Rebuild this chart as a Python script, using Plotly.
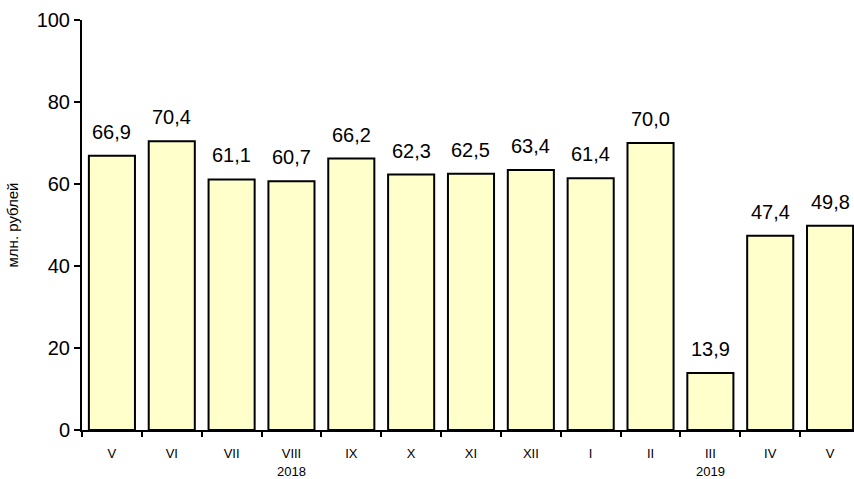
import plotly.graph_objects as go

months = ["V", "VI", "VII", "VIII", "IX", "X", "XI", "XII", "I", "II", "III", "IV", "V"]
values = [66.9, 70.4, 61.1, 60.7, 66.2, 62.3, 62.5, 63.4, 61.4, 70.0, 13.9, 47.4, 49.8]
years = ["2018", "2019"]
year_pos = [3, 10]
y_title = "млн. рублей"

FONT = "Liberation Sans, Arial, sans-serif"
idx = list(range(len(months)))
labels = [f"{v:.1f}".replace(".", ",") for v in values]

fig = go.Figure()
fig.add_trace(go.Bar(
    x=idx, y=values, width=0.77,
    marker=dict(color="#FFFFCC", line=dict(color="black", width=2)),
    hoverinfo="skip",
))

for i, v, t in zip(idx, values, labels):
    fig.add_annotation(x=i, y=v, text=t, showarrow=False, yanchor="bottom",
                       yshift=11, font=dict(size=20, color="black", family=FONT))

for yr, p in zip(years, year_pos):
    fig.add_annotation(x=p, y=0, yref="paper", text=yr, showarrow=False,
                       yanchor="middle", yshift=-41, borderpad=0,
                       font=dict(size=13, color="black", family=FONT))

xr = [-0.5, 12.4]
fig.update_layout(
    width=854, height=479,
    margin=dict(l=82, r=0, t=20, b=49),
    plot_bgcolor="white", paper_bgcolor="white",
    showlegend=False,
    font=dict(family=FONT, color="black"),
    xaxis=dict(range=xr, tickvals=idx, ticktext=months, ticks="",
               showline=True, linewidth=2, linecolor="black", showgrid=False,
               zeroline=False, tickfont=dict(size=13), ticklabelstandoff=10),
    xaxis2=dict(range=xr, overlaying="x", anchor="y", side="bottom",
                tickvals=[i - 0.5 for i in range(len(months) + 1)],
                ticks="outside", ticklen=6, tickwidth=2, tickcolor="black",
                showticklabels=False, showline=False, showgrid=False, zeroline=False),
    yaxis=dict(range=[0, 100], dtick=20, ticks="outside", ticklen=6, tickwidth=2,
               tickcolor="black", showline=True, linewidth=2, linecolor="black",
               showgrid=False, zeroline=False, tickfont=dict(size=20),
               title=dict(text=y_title, font=dict(size=15), standoff=14)),
)
fig.add_trace(go.Scatter(x=[None], y=[None], xaxis="x2", showlegend=False))

fig.write_html("out.html", config={"displayModeBar": False},
               post_script="document.body.style.margin='0';document.body.style.overflow='hidden';")
